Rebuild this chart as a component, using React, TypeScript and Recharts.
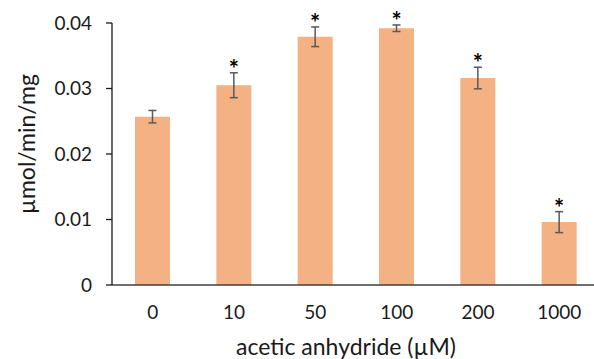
import { BarChart, Bar, XAxis, YAxis, ErrorBar, LabelList } from "recharts";

const categories = ["0", "10", "50", "100", "200", "1000"];
const rates = [0.0257, 0.0305, 0.0379, 0.0392, 0.0316, 0.0096];
const errors = [0.00095, 0.0019, 0.0015, 0.0005, 0.00165, 0.0016];
const significant = [false, true, true, true, true, true];
const yTicks = [0, 0.01, 0.02, 0.03, 0.04];

const data = categories.map((c, i) => ({
  name: c,
  rate: rates[i],
  err: errors[i],
  star: significant[i] ? "*" : "",
}));

const FONT = "Lato, 'Liberation Sans', sans-serif";

/* asterisk sits just above the top of the error bar */
function renderStar(props: any) {
  const { x, y, width, height, value, index } = props;
  if (!value) return null;
  const d = data[index];
  const pxPerUnit = height / d.rate;
  const errTop = y - d.err * pxPerUnit;
  return (
    <text
      x={x + width / 2}
      y={errTop + 5}
      textAnchor="middle"
      fill="#000"
      style={{ fontSize: 24, fontWeight: 700, fontFamily: FONT }}
    >
      {value}
    </text>
  );
}

export default function App() {
  return (
    <div
      style={{
        position: "absolute",
        left: 0,
        top: 0,
        width: 594,
        height: 359,
        overflow: "hidden",
        background: "#fff",
      }}
    >
      <BarChart
        width={600}
        height={359}
        data={data}
        margin={{ top: 23, right: 0, bottom: 0, left: 0 }}
        barSize={35}
      >
        <XAxis
          dataKey="name"
          height={74}
          tickLine={false}
          tickMargin={15}
          axisLine={{ stroke: "#404040", strokeWidth: 1.3 }}
          tick={{ fill: "#1a1a1a", fontSize: 19, fontFamily: FONT }}
          label={{
            content: () => (
              <text
                x={346}
                y={355}
                textAnchor="middle"
                fill="#1a1a1a"
                style={{ fontSize: 23, fontFamily: FONT }}
              >
                acetic anhydride (µM)
              </text>
            ),
          }}
        />
        <YAxis
          width={112}
          domain={[0, 0.04]}
          ticks={yTicks}
          tickSize={6}
          tickMargin={14}
          tickFormatter={(v: number) => (v === 0 ? "0" : String(v))}
          axisLine={{ stroke: "#1a1a1a", strokeWidth: 1.3 }}
          tickLine={{ stroke: "#1a1a1a", strokeWidth: 1.3 }}
          tick={{ fill: "#1a1a1a", fontSize: 19, fontFamily: FONT }}
          label={{
            content: () => (
              <text
                x={35}
                y={144}
                textAnchor="middle"
                transform="rotate(-90 35 144)"
                fill="#1a1a1a"
                style={{ fontSize: 23, fontFamily: FONT }}
              >
                µmol/min/mg
              </text>
            ),
          }}
        />
        <Bar dataKey="rate" fill="#F4B183" isAnimationActive={false}>
          <ErrorBar dataKey="err" width={4} stroke="#595959" strokeWidth={1.5} />
          <LabelList dataKey="star" content={renderStar} />
        </Bar>
      </BarChart>
    </div>
  );
}
